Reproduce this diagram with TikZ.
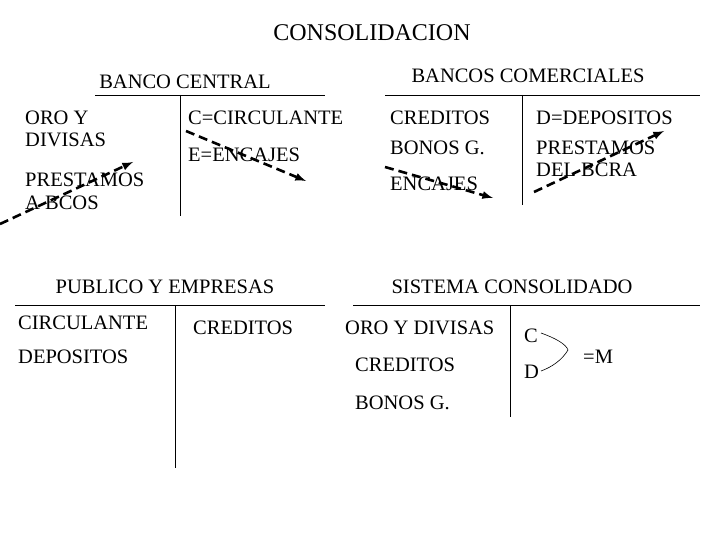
\documentclass[tikz,border=0pt]{standalone}
\usepackage{fontspec}
\setmainfont{Liberation Serif}
\begin{document}
\begin{tikzpicture}[x=1pt,y=-1pt,
  t/.style={font=\fontsize{20.5}{22}\selectfont,inner sep=0pt},
  tl/.style={t,anchor=west},
  ln/.style={line width=0.8pt},
  da/.style={line width=2.6pt,dash pattern=on 9pt off 5pt,-latex}]
\useasboundingbox (0,0) rectangle (720,540);
\node[t,font=\fontsize{24}{26}\selectfont] (title) at (372,33) {CONSOLIDACION};
% Banco central
\node[t] (bc) at (185,82) {BANCO CENTRAL};
\coordinate (bcl) at (95,95); \coordinate (bcr) at (325,95);
\coordinate (bct) at (180,95); \coordinate (bcb) at (180,216);
\draw[ln] (bcl)--(bcr); \draw[ln] (bct)--(bcb);
\node[tl] (oro) at (25,118) {ORO Y};
\node[tl] (div) at (25,140) {DIVISAS};
\node[tl] (pre) at (25,180) {PRESTAMOS};
\node[tl] (abc) at (25,203) {A BCOS};
\node[tl] (cc) at (188,118) {C=CIRCULANTE};
\node[tl] (ee) at (188,155) {E=ENCAJES};
% Bancos comerciales
\node[t] (bcom) at (528,76) {BANCOS COMERCIALES};
\coordinate (kl) at (385,95); \coordinate (kr) at (700,95);
\coordinate (kt) at (522,95); \coordinate (kb) at (522,205);
\draw[ln] (kl)--(kr); \draw[ln] (kt)--(kb);
\node[tl] (cr) at (390,118) {CREDITOS};
\node[tl] (bg) at (390,148) {BONOS G.};
\node[tl] (en) at (390,184) {ENCAJES};
\node[tl] (dd) at (536,118) {D=DEPOSITOS};
\node[tl] (pr2) at (536,148) {PRESTAMOS};
\node[tl] (dbc) at (536,170) {DEL BCRA};
% arrows
\coordinate (a1s) at (0,224); \coordinate (a1e) at (133,162);
\coordinate (a2s) at (186,131); \coordinate (a2e) at (306,181);
\coordinate (a3s) at (385,167); \coordinate (a3e) at (493,198);
\coordinate (a4s) at (534,192); \coordinate (a4e) at (664,131);
\draw[da] (a1s)--(a1e);
\draw[da] (a2s)--(a2e);
\draw[da] (a3s)--(a3e);
\draw[da] (a4s)--(a4e);
% Publico
\node[t] (pub) at (165,287) {PUBLICO Y EMPRESAS};
\coordinate (pl) at (15,305); \coordinate (pr) at (325,305);
\coordinate (pt) at (175,305); \coordinate (pb) at (175,468);
\draw[ln] (pl)--(pr); \draw[ln] (pt)--(pb);
\node[tl] (pc) at (18,323) {CIRCULANTE};
\node[tl] (pd) at (18,357) {DEPOSITOS};
\node[tl] (pcr) at (193,328) {CREDITOS};
% Sistema
\node[t] (sis) at (512,287) {SISTEMA CONSOLIDADO};
\coordinate (sl) at (353,305); \coordinate (sr) at (700,305);
\coordinate (st) at (510,305); \coordinate (sb) at (510,417);
\draw[ln] (sl)--(sr); \draw[ln] (st)--(sb);
\node[tl] (so) at (345,328) {ORO Y DIVISAS};
\node[tl] (sc) at (355,365) {CREDITOS};
\node[tl] (sbg) at (355,403) {BONOS G.};
\node[tl] (c) at (524,336) {C};
\node[tl] (d) at (524,372) {D};
\coordinate (cs) at (541,333);
\coordinate (tip) at (568,350);
\coordinate (de) at (541,371);
\draw[line width=0.6pt] (cs) .. controls (555,338) and (566,344) .. (tip)
  .. controls (562,360) and (552,367) .. (de);
\node[tl] (m) at (583,357) {=M};
\end{tikzpicture}
\end{document}
